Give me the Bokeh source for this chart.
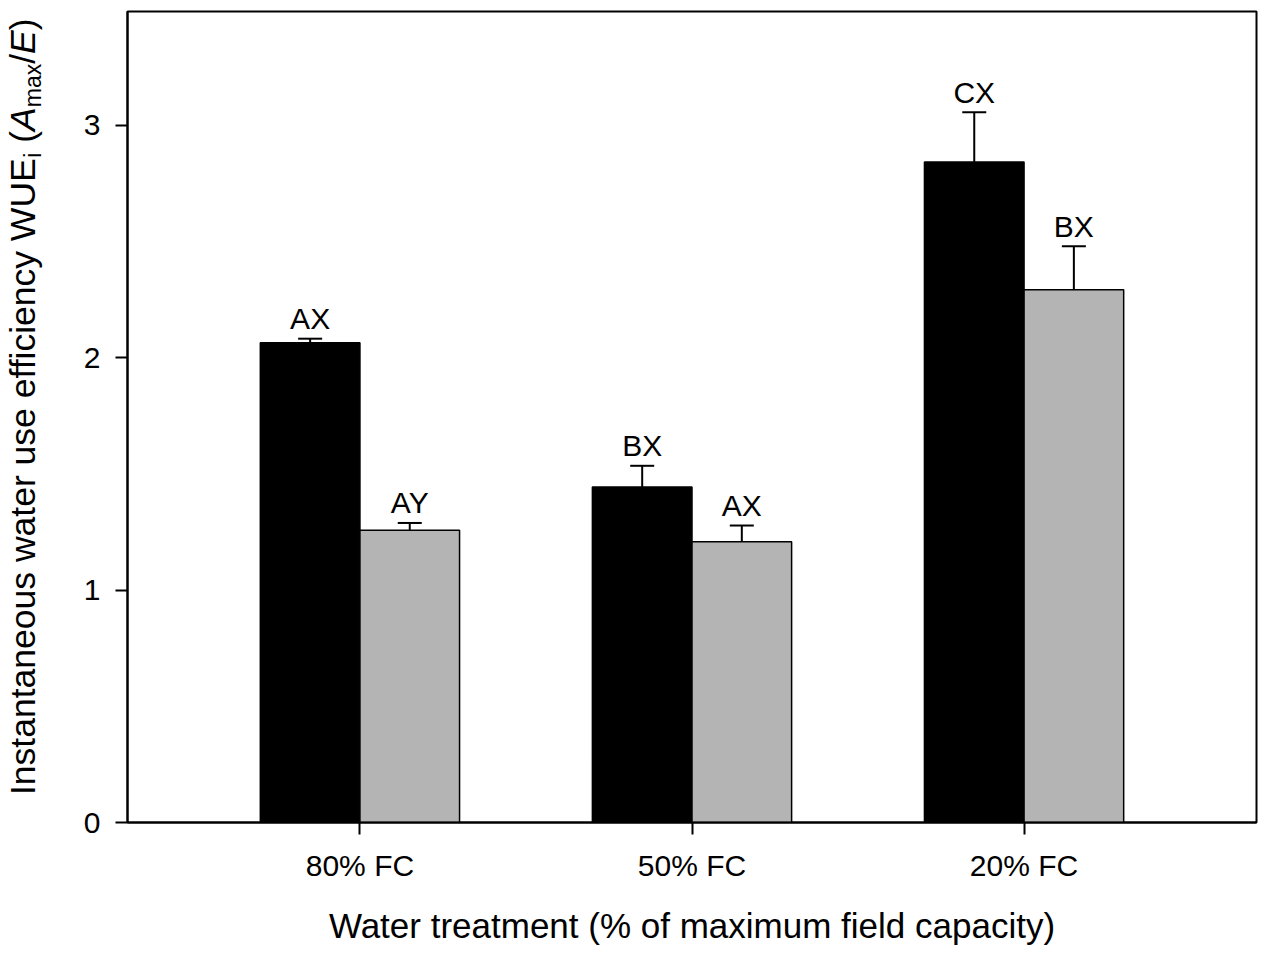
import math
from bokeh.plotting import figure
from bokeh.layouts import row
from bokeh.models import ColumnDataSource, FixedTicker, Whisker, TeeHead, Range1d
from bokeh.core.properties import value
from bokeh.embed import file_html
from bokeh.resources import INLINE

# ---- data ----
treatments = ["80% FC", "50% FC", "20% FC"]
black_means = [2.064, 1.444, 2.842]
black_se = [0.018, 0.091, 0.214]
gray_means = [1.258, 1.208, 2.293]
gray_se = [0.031, 0.070, 0.187]
black_letters = ["AX", "BX", "CX"]
gray_letters = ["AY", "AX", "BX"]
y_ticks = [0, 1, 2, 3]
y_title_parts = ["Instantaneous water use efficiency WUE", "i", "(", "A", "max", "/", "E", ")"]

FONT = "Liberation Sans"
BAR_W = 0.3
GRAY = "#b4b4b4"

W, H = 1267, 954
LW = 60                      # width of the strip holding the y title
BL, BR, BT, BB = 127 - LW, 11, 11, 132
X0, X1 = 0.3, 3.7
Y0, Y1 = 0.0, 3.49

idx = list(range(1, len(treatments) + 1))

black_src = ColumnDataSource(dict(
    x=[i - BAR_W / 2 for i in idx],
    top=black_means,
    upper=[m + s for m, s in zip(black_means, black_se)],
    lab=black_letters,
))
gray_src = ColumnDataSource(dict(
    x=[i + BAR_W / 2 for i in idx],
    top=gray_means,
    upper=[m + s for m, s in zip(gray_means, gray_se)],
    lab=gray_letters,
))

p = figure(width=W - LW, height=H,
           x_range=Range1d(X0, X1), y_range=Range1d(Y0, Y1),
           output_backend="svg", toolbar_location=None,
           min_border_left=BL, min_border_right=BR,
           min_border_top=BT, min_border_bottom=BB)

p.background_fill_color = "white"
p.border_fill_color = "white"
p.outline_line_color = "black"
p.outline_line_width = 2
p.outline_line_alpha = 1
p.xgrid.visible = False
p.ygrid.visible = False

for src, col in ((black_src, "black"), (gray_src, GRAY)):
    p.vbar(x="x", top="top", bottom=0, width=BAR_W, source=src,
           fill_color=col, line_color="black", line_width=1.5)
    w = Whisker(source=src, base="x", lower="top", upper="upper",
                lower_head=None,
                upper_head=TeeHead(size=24, line_width=2, line_color="black"),
                line_width=2, line_color="black", level="overlay")
    p.add_layout(w)
    p.text(x="x", y="upper", text="lab", source=src,
           text_font=value(FONT), text_font_size="30px",
           text_align="center", text_baseline="alphabetic",
           y_offset=-20, text_color="black")

# axes
for ax in (p.xaxis[0], p.yaxis[0]):
    ax.axis_line_width = 2
    ax.axis_line_color = "black"
    ax.major_tick_line_width = 2
    ax.major_tick_line_color = "black"
    ax.major_tick_in = 0
    ax.major_tick_out = 12
    ax.minor_tick_line_color = None
    ax.major_label_text_font = FONT
    ax.major_label_text_font_size = "30px"
    ax.major_label_text_color = "black"

p.xaxis.ticker = FixedTicker(ticks=idx)
p.xaxis.major_label_overrides = {i: t for i, t in zip(idx, treatments)}
p.xaxis.major_label_standoff = 14
p.xaxis.axis_label = "Water treatment (% of maximum field capacity)"
p.xaxis.axis_label_text_font = FONT
p.xaxis.axis_label_text_font_size = "35px"
p.xaxis.axis_label_text_font_style = "normal"
p.xaxis.axis_label_text_color = "black"
p.xaxis.axis_label_standoff = 21

p.yaxis.ticker = FixedTicker(ticks=y_ticks)
p.yaxis.major_label_standoff = 15

# ---- y-axis title strip (rotated text with subscripts and italics) ----
frame_h = H - BT - BB
lf = figure(width=LW, height=H, x_range=Range1d(0, LW), y_range=Range1d(0, frame_h),
            output_backend="svg", toolbar_location=None,
            min_border_left=0, min_border_right=0,
            min_border_top=BT, min_border_bottom=BB)
lf.axis.visible = False
lf.grid.visible = False
lf.outline_line_color = None
lf.background_fill_color = "white"
lf.border_fill_color = "white"

FS, SS = 35.5, 23
sizes = [FS, SS, FS, FS, SS, FS, FS, FS]
styles = ["normal", "normal", "normal", "italic", "normal", "normal", "italic", "normal"]
shifts = [0, 10, 0, 0, 10, 0, 0, 0]          # subscript drop, px
lead = [0, 0, 0.278, 0, 0, 0, 0, 0]          # leading space before a part, em
em_widths = [17.952, 0.222, 0.333, 0.667, 1.889, 0.278, 0.667, 0.333]
base_x = 22          # baseline position in the strip, px from left
pos = 27.5           # start of the title, px above the frame bottom
for txt, size, style, shift, sp, wem in zip(y_title_parts, sizes, styles, shifts, lead, em_widths):
    pos += sp * FS
    lf.text(x=[base_x + shift], y=[pos], text=[txt], angle=math.pi / 2,
            text_font=value(FONT), text_font_size=f"{size}px",
            text_font_style=style, text_color="black",
            text_align="left", text_baseline="alphabetic")
    pos += wem * size

layout = row(lf, p, spacing=0)
open("out.html", "w").write(file_html(layout, INLINE))
